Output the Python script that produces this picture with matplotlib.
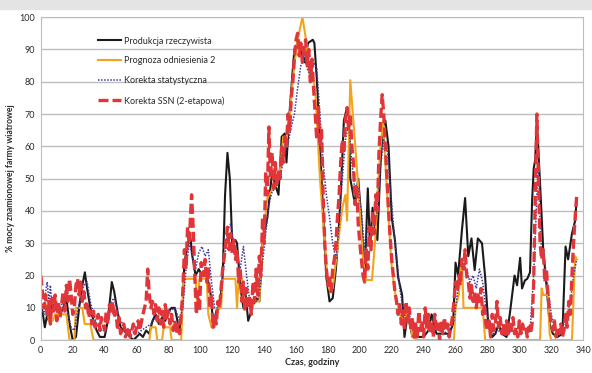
import matplotlib
matplotlib.use("Agg")
import matplotlib.pyplot as plt
from matplotlib.patches import Rectangle

plt.rcParams["font.family"] = ["Lato", "DejaVu Sans"]

# (godzina, % mocy) dla każdej serii
produkcja = [
    (0, 10), (1, 9), (2.5, 4), (4, 8), (5, 6), (7, 12), (8, 9), (10, 11), (12, 8), (14, 10),
    (16, 13), (18, 5), (20, 0), (22, 1), (24, 10), (26, 17), (27.6, 21), (29, 16), (31, 10),
    (33, 6), (35, 3), (37, 1), (40, 1), (42, 6), (44.5, 18), (46, 15), (48, 9), (50, 4),
    (52, 3), (54, 2), (56, 1), (58, 0), (60, 1), (62, 2), (64, 1), (66, 3), (68, 2), (70, 6),
    (72, 8), (74, 5), (76, 7), (78, 6), (80, 9), (82, 10), (84, 10), (86, 5), (87.5, 3),
    (89, 12), (90, 24), (91.5, 28), (93.5, 33), (95, 26), (97, 20), (99, 22), (101, 20),
    (103, 21), (105, 18), (106, 16), (107, 12), (108, 4), (110, 9), (112, 10), (114, 20),
    (115.5, 45), (117, 58), (118.5, 50), (120, 30), (122, 31), (123, 30), (125, 17), (127, 10),
    (128, 16), (130, 6), (132, 9), (133, 12), (135, 13), (137, 12), (139, 30), (142, 38),
    (145, 52), (147, 48), (149, 45), (151, 63), (153, 64), (154, 55), (156, 71), (158, 84),
    (159, 90), (161, 92), (163.5, 89), (165.5, 86), (167.5, 92), (170.5, 93), (171.5, 92),
    (173, 81), (175, 60), (177, 40), (179, 19.5), (181, 12), (183, 13), (185, 22), (186.5, 32),
    (188, 45), (190, 68), (192, 72), (193, 71), (194, 50), (197, 42), (199, 50), (201, 37),
    (203, 18.6), (205, 47), (206.4, 29), (208, 41), (209.5, 35), (211, 31), (213, 55),
    (214.5, 66), (216, 68), (218, 60), (220, 38), (222, 31), (224, 19.5), (226.5, 14), (228, 1),
    (230, 8), (233, 1), (236, 1), (240, 1), (243, 3), (245, 8), (247, 4), (248, 2), (252, 2),
    (256, 2), (258.5, 5), (260, 24), (261.6, 20), (264, 34), (266, 44), (268, 26), (270, 31.5),
    (272, 21.7), (274, 31.5), (276.6, 30), (278.5, 20), (280.4, 6), (283, 1), (285, 2), (287, 5),
    (289, 2), (292, 1), (294, 8), (297, 20), (298.6, 17), (300.5, 25.5), (301.7, 16),
    (303.5, 18.5), (305, 19), (306.7, 21), (308, 43), (309, 53), (310, 56), (311, 68),
    (313, 48.5), (315, 28), (317.4, 15), (319, 5), (321, 2), (324, 1), (327, 2), (329, 29),
    (330.6, 25), (333, 33), (335, 37), (336, 44),
]

prognoza = [
    (0, 11), (4, 11), (5, 6), (7.5, 6), (9, 8), (16, 8), (18, 0), (21, 0), (22, 10), (26, 10),
    (27.5, 5), (31, 5), (33, 0), (68, 0), (69, 4), (72, 4), (73, 0), (76, 0), (77, 4), (81, 4),
    (82, 0), (88, 0), (89.5, 19), (97, 19), (98, 11), (99.5, 19), (104, 19), (105, 8), (107, 4),
    (109, 4), (111, 10), (113, 10), (114, 19), (122, 19), (123, 10), (124, 19), (126, 19),
    (128, 11), (133, 11), (135, 12), (137, 12), (139, 30), (142, 44), (145.5, 47), (148, 48),
    (150, 53), (152, 63), (154, 62), (156, 69), (158, 81), (161, 93), (164, 100), (166.6, 92),
    (168.6, 81), (171, 80), (172, 78), (175, 50), (178, 30), (180, 17.6), (181, 15.5), (183, 16),
    (185.6, 27), (189, 41), (191, 45), (192, 37), (194, 80.5), (197, 61), (200, 40.5), (202, 25),
    (204, 18.6), (207.6, 18.6), (209.5, 30), (211, 45), (213, 60), (214.6, 68), (216, 55),
    (218, 38), (220, 22.6), (222, 15), (225, 8), (228, 6), (230, 10), (233, 1), (236, 0),
    (259, 0), (260, 10), (262, 14), (264, 25), (265, 10), (277, 10), (278.6, 0), (313, 0),
    (314, 16), (315, 14), (318, 14), (319, 2), (320, 0), (333, 0), (335, 26), (336, 25),
]

korekta_stat = [
    (0, 10), (2, 8), (3, 15), (4, 18), (5, 12), (6, 17), (7, 10), (9, 12), (11, 9), (13, 11),
    (15, 12), (17, 8), (19, 4), (21, 3), (23, 9), (25, 14), (27, 17), (29, 18), (31, 12),
    (33, 8), (35, 5), (38, 3), (41, 5), (44, 12), (46, 13), (48, 9), (50, 6), (53, 4), (56, 3),
    (60, 2), (63, 3), (66, 4), (69, 5), (72, 7), (75, 6), (78, 7), (81, 9), (84, 10), (87, 6),
    (89, 10), (91, 22), (93, 30), (95, 26), (97, 22), (99, 27), (101, 29), (103, 26), (105, 28),
    (107, 18), (109, 10), (111, 10), (113, 14), (115, 24), (117, 34), (119, 36), (121, 30),
    (123, 26), (125, 22), (127, 29), (129, 20), (131, 12), (133, 11), (135, 12), (137, 14),
    (139, 24), (141, 33), (143, 42), (145, 46), (147, 47), (149, 49), (151, 53), (153, 58),
    (155, 61), (157, 66), (159, 70), (161, 78), (163, 85), (165, 88), (167, 84), (169, 82),
    (171, 86), (173, 84), (175, 70), (177, 55), (179, 45), (181, 38), (183, 30), (185, 25),
    (187, 35), (189, 50), (191, 62), (193, 67), (195, 55), (197, 46), (199, 47), (201, 40),
    (203, 28), (205, 35), (207, 33), (209, 36), (211, 40), (213, 54), (215, 62), (217, 60),
    (219, 48), (221, 36), (223, 26), (225, 16), (227, 10), (229, 6), (231, 8), (233, 4),
    (236, 3), (240, 3), (243, 5), (246, 7), (249, 4), (252, 2), (256, 3), (259, 6), (261, 14),
    (263, 20), (265, 23), (267, 22), (269, 18), (271, 20), (273, 16), (275, 22), (277, 18),
    (279, 10), (281, 4), (284, 2), (288, 3), (292, 2), (296, 3), (300, 4), (304, 3), (307, 5),
    (309, 20), (311, 45), (312, 55), (313, 35), (314, 28), (316, 24), (318, 16), (320, 8),
    (322, 4), (325, 3), (328, 5), (330, 8), (332, 12), (334, 20), (336, 25),
]

korekta_ssn = [
    (0, 20), (1, 15), (2, 10), (3, 14), (4, 7), (5, 12), (6, 5), (7, 13), (8, 9), (9, 14),
    (10, 6), (11, 12), (12, 7), (13, 11), (14, 15), (15, 9), (16, 17), (17, 12), (18, 19),
    (19, 14), (20, 8), (21, 10), (22, 17), (23, 19), (24, 14), (25, 18), (26, 12), (27, 15),
    (28, 10), (29, 12), (30, 7), (31, 9), (32, 5), (33, 9), (34, 4), (36, 8), (37, 3), (38, 7),
    (40, 3), (41, 9), (42, 5), (43, 11), (44, 8), (45, 12), (46, 7), (47, 9), (48, 4), (49, 7),
    (50, 2), (52, 5), (53, 1), (55, 4), (56, 1), (58, 5), (59, 2), (61, 6), (62, 3), (64, 8),
    (66, 12), (67, 22), (68, 14), (69, 10), (70, 12), (71, 8), (72, 11), (73, 6), (74, 10),
    (75, 5), (76, 9), (77, 4), (78, 11), (79, 7), (80, 9), (81, 5), (82, 8), (83, 3), (84, 6),
    (85, 2), (86, 5), (87, 2), (88, 8), (89, 15), (90, 28), (91, 22), (92, 35), (93, 30),
    (94.5, 45), (95.5, 35), (96.5, 20), (97.5, 8), (98.5, 15), (99.5, 9), (100.5, 24), (102, 20),
    (103, 25), (104, 18), (105, 22), (106, 10), (107, 14), (108, 4), (109, 8), (110, 5),
    (111, 12), (112, 10), (113, 16), (114, 22), (115, 26), (116, 30), (117, 35), (118, 28),
    (119, 33), (120, 27), (121, 31), (122, 25), (123, 28), (124, 18), (125, 22), (126, 12),
    (127, 18), (128, 9), (129, 16), (130, 10), (131, 13), (132, 8), (133, 18), (134, 12),
    (135, 22), (136, 14), (137, 26), (138, 20), (139, 38), (140, 30), (141, 52), (142, 45),
    (143, 66), (144, 50), (145, 58), (146, 47), (147, 55), (148, 48), (149, 52), (150, 50),
    (151, 60), (152, 55), (153, 63), (154, 60), (155, 70), (156, 65), (157, 75), (158, 80),
    (159, 88), (160, 93), (161, 95), (162, 88), (163, 92), (164, 86), (165, 90), (166, 93),
    (167, 85), (168, 90), (169, 80), (170, 87), (171, 78), (172, 70), (173, 62), (174, 72),
    (175, 60), (176, 65), (177, 45), (178, 30), (179, 22), (180, 17), (181, 20), (182, 15),
    (183, 22), (184, 25), (185, 30), (186, 38), (187, 45), (188, 55), (189, 62), (190, 58),
    (191, 68), (192, 72), (193, 65), (194, 70), (195, 60), (196, 55), (197, 42), (198, 48),
    (199, 36), (200, 30), (201, 25), (202, 20), (203, 18), (204, 28), (205, 22), (206, 35),
    (207, 28), (208, 40), (209, 33), (210, 45), (211, 40), (212, 58), (213, 68), (214, 76),
    (215, 70), (216, 60), (217, 50), (218, 40), (219, 32), (220, 25), (221, 20), (222, 15),
    (223, 12), (224, 8), (225, 11), (226, 5), (227, 9), (228, 3), (229, 12), (230, 6),
    (231, 10), (232, 3), (233, 7), (234, 1), (235, 5), (236, 1), (237, 9), (238, 3), (239, 6),
    (240, 1), (241, 10), (242, 4), (243, 8), (244, 2), (245, 6), (246, 1), (247, 8), (248, 3),
    (249, 5), (250, 0), (251, 6), (252, 2), (253, 7), (254, 3), (255, 5), (256, 1), (257, 4),
    (258, 7), (259, 12), (260, 18), (261, 15), (262, 20), (263, 17), (264, 25), (265, 22),
    (266, 28), (267, 20), (268, 18), (269, 13), (270, 17), (271, 12), (272, 15), (273, 10),
    (274, 14), (275, 12), (276, 16), (277, 8), (278, 11), (279, 5), (280, 3), (281, 6), (282, 1),
    (283, 8), (284, 3), (285, 5), (286, 12), (287, 4), (288, 7), (289, 2), (290, 5), (291, 1),
    (292, 6), (293, 2), (294, 5), (295, 3), (296, 7), (297, 2), (298, 4), (299, 1), (300, 6),
    (301, 2), (302, 5), (303, 3), (304, 4), (305, 1), (306, 4), (307, 2), (308, 5), (309, 18),
    (310, 45), (311, 70), (312, 50), (313, 30), (314, 25), (315, 28), (316, 18), (317, 22),
    (318, 14), (319, 9), (320, 5), (321, 3), (322, 6), (323, 1), (324, 4), (325, 2), (326, 5),
    (327, 1), (328, 3), (329, 8), (330, 4), (331, 12), (332, 8), (333, 20), (334, 30), (335, 38),
    (336, 45),
]

x_ticks = list(range(0, 341, 20))
y_ticks = list(range(0, 101, 10))

fig = plt.figure(figsize=(5.92, 3.73), dpi=100)
fig.patches.append(Rectangle((0, 0.975), 1, 0.025, transform=fig.transFigure,
                             color="#e4e4e4", zorder=0))
ax = fig.add_axes([0.069, 0.088, 0.916, 0.866])

series = [
    (produkcja, "Produkcja rzeczywista", dict(color="#1a1a1a", lw=1.5, ls="-")),
    (prognoza, "Prognoza odniesienia 2", dict(color="#f4a41c", lw=1.5, ls="-")),
    (korekta_stat, "Korekta statystyczna", dict(color="#3b3b9c", lw=1.1, ls=(0, (1, 1)))),
    (korekta_ssn, "Korekta SSN (2-etapowa)", dict(color="#e0363a", lw=2.4, ls=(0, (3, 1.2)))),
]
for data, label, style in series:
    h, v = zip(*data)
    ax.plot(h, v, label=label, **style)

ax.set_xlim(0, 340)
ax.set_ylim(0, 100)
ax.set_xticks(x_ticks)
ax.set_yticks(y_ticks)
ax.grid(axis="y", color="#bdbdbd", lw=1)
ax.set_axisbelow(True)
for s in ax.spines.values():
    s.set_color("#bdbdbd")
ax.tick_params(length=0, labelsize=6.5, colors="#2a2a2a", pad=4)

ax.set_xlabel("Czas, godziny", fontsize=6.5, fontweight="bold", color="#2a2a2a", labelpad=2)
ax.set_ylabel("% mocy znamionowej farmy wiatrowej", fontsize=6.2, fontweight="bold",
              color="#2a2a2a", labelpad=3)

leg = ax.legend(loc="upper left", bbox_to_anchor=(0.09, 0.965), frameon=False,
                fontsize=6.5, handlelength=2.6, labelspacing=1.2, handletextpad=0.3)
for t in leg.get_texts():
    t.set_color("#2a2a2a")

fig.savefig("out.png", dpi=100)
